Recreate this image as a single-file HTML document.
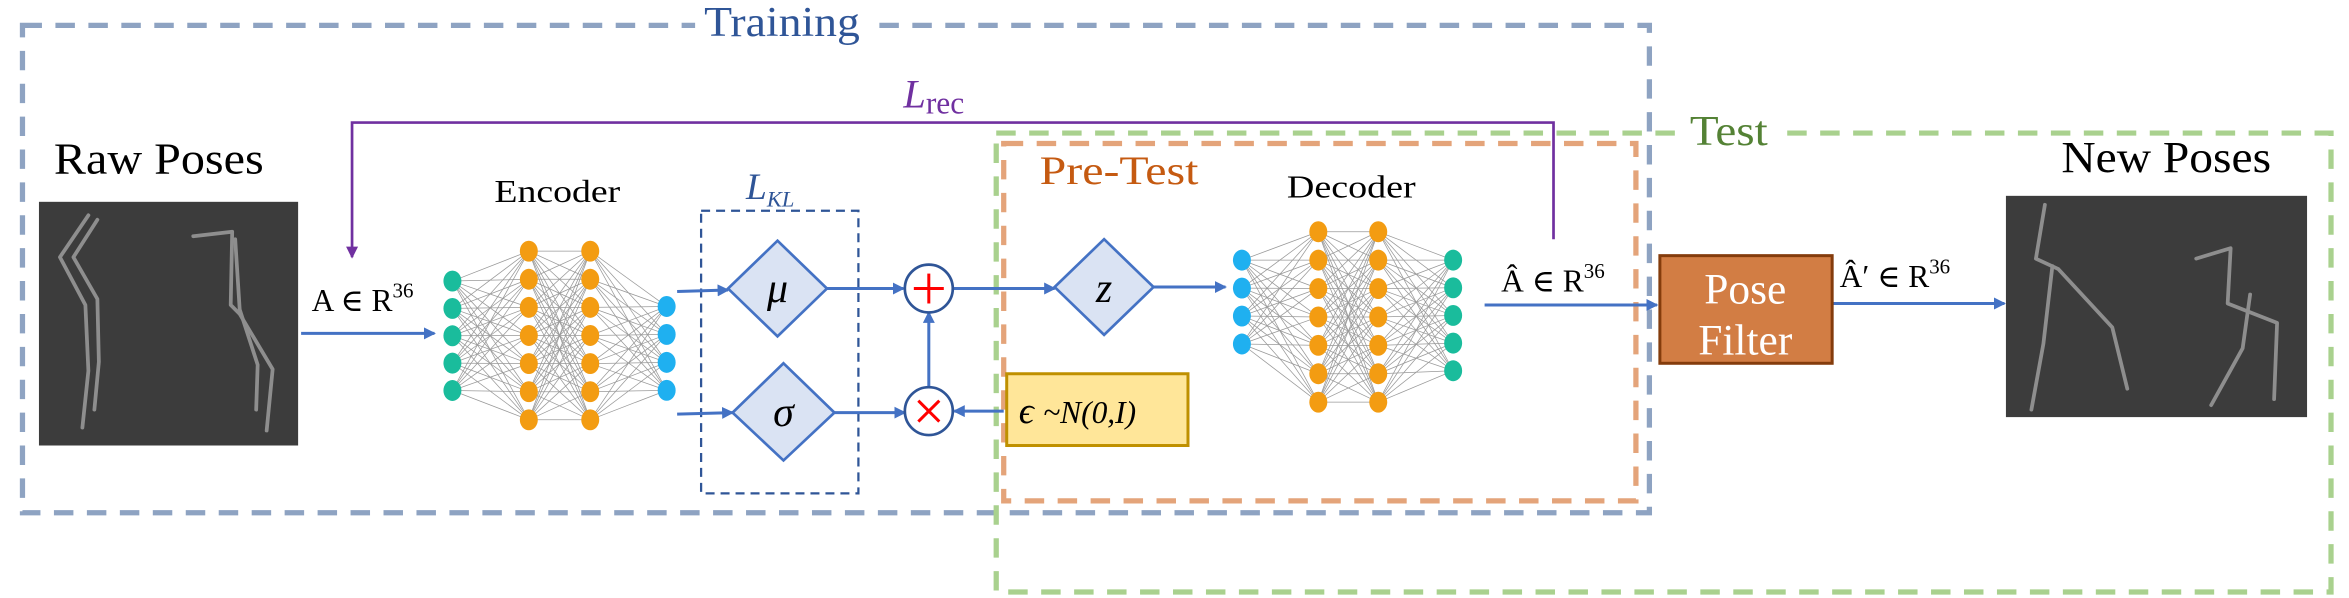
<!DOCTYPE html>
<html><head><meta charset="utf-8">
<style>html,body{margin:0;padding:0;background:#fff;}svg{display:block;}svg text{font-family:"Liberation Serif","DejaVu Serif",serif;}</style>
</head><body>
<svg id="s" xmlns="http://www.w3.org/2000/svg" width="2349" height="598" viewBox="0 0 1568 400" preserveAspectRatio="none">
<defs>
<marker id="ab" markerWidth="8" markerHeight="8" refX="7" refY="4" orient="auto" markerUnits="userSpaceOnUse"><path d="M0,0 L8,4 L0,8 z" fill="#4472c4"/></marker>
<marker id="ap" markerWidth="8" markerHeight="8" refX="7" refY="4" orient="auto" markerUnits="userSpaceOnUse"><path d="M0,0 L8,4 L0,8 z" fill="#7030a0"/></marker>
</defs>
<rect x="15" y="17" width="1086" height="326" fill="none" stroke="#8ea3c2" stroke-width="3.5" stroke-dasharray="13,9"/>
<rect x="665" y="89" width="891" height="307" fill="none" stroke="#a9d18e" stroke-width="3.5" stroke-dasharray="13,9"/>
<rect x="670" y="96" width="422" height="239" fill="none" stroke="#e4a47a" stroke-width="3.5" stroke-dasharray="13,9"/>
<rect x="468" y="141" width="105" height="189" fill="none" stroke="#2f5597" stroke-width="1.5" stroke-dasharray="6,4"/>
<rect x="464" y="0" width="116" height="30" fill="#fff"/>
<text x="470" y="24" font-size="28" fill="#2f5597" textLength="104" lengthAdjust="spacingAndGlyphs">Training</text>
<rect x="1122" y="76" width="66" height="24" fill="#fff"/>
<text x="1128" y="97" font-size="28" fill="#548235" textLength="52" lengthAdjust="spacingAndGlyphs">Test</text>
<text x="694" y="123" font-size="27" fill="#c55a11" textLength="106" lengthAdjust="spacingAndGlyphs">Pre-Test</text>
<polyline points="1037,160 1037,82 235,82 235,172" fill="none" stroke="#7030a0" stroke-width="1.8" marker-end="url(#ap)"/>
<text x="603" y="72" font-size="27" font-style="italic" fill="#7030a0">L<tspan font-style="normal" font-size="21" dy="4">rec</tspan></text>
<text x="498" y="133" font-size="25" font-style="italic" fill="#2f5597">L<tspan font-size="15" dy="5">KL</tspan></text>
<text x="36" y="116" font-size="30" fill="#000" textLength="140" lengthAdjust="spacingAndGlyphs">Raw Poses</text>
<text x="1376" y="115" font-size="30" fill="#000" textLength="140" lengthAdjust="spacingAndGlyphs">New Poses</text>
<text x="330" y="135" font-size="21" fill="#000" textLength="84" lengthAdjust="spacingAndGlyphs">Encoder</text>
<text x="859" y="132" font-size="21" fill="#000" textLength="86" lengthAdjust="spacingAndGlyphs">Decoder</text>
<text x="208" y="208" font-size="21" fill="#000">A ∈ R<tspan font-size="14" dy="-9">36</tspan></text>
<text x="1002" y="195" font-size="21" fill="#000">Â  ∈ R<tspan font-size="14" dy="-9">36</tspan></text>
<text x="1228" y="192" font-size="21" fill="#000">Â′ ∈ R<tspan font-size="14" dy="-9">36</tspan></text>
<rect x="26" y="135" width="173" height="163" fill="#3c3c3c"/>
<rect x="1339" y="131" width="201" height="148" fill="#3c3c3c"/>
<g fill="none" stroke="#8e8e8e" stroke-width="2.5" stroke-linejoin="round" stroke-linecap="round">
<polyline points="59,144 40,172 57,204 59,248 55,286"/>
<polyline points="65,147 49,172 65,200 66,242 63,274"/>
<polyline points="129,158 155,155 154,204 160,210 182,247 178,288"/>
<polyline points="157,160 160,207 172,244 171,274"/>
<polyline points="1365,137 1359,173 1374,180 1410,219 1420,260"/>
<polyline points="1370,178 1364,230 1356,274"/>
<polyline points="1466,173 1489,166 1487,203 1520,216 1518,267"/>
<polyline points="1502,197 1497,233 1476,271"/>
</g>
<g stroke="#4472c4" stroke-width="2" fill="none">
<line x1="201" y1="223" x2="290" y2="223" marker-end="url(#ab)"/>
<line x1="452" y1="195" x2="486" y2="194" marker-end="url(#ab)"/>
<line x1="452" y1="277" x2="489" y2="276" marker-end="url(#ab)"/>
<line x1="552" y1="193" x2="603" y2="193" marker-end="url(#ab)"/>
<line x1="557" y1="276" x2="604" y2="276" marker-end="url(#ab)"/>
<line x1="620" y1="259" x2="620" y2="209" marker-end="url(#ab)"/>
<line x1="635" y1="193" x2="704" y2="193" marker-end="url(#ab)"/>
<line x1="670" y1="275" x2="637" y2="275" marker-end="url(#ab)"/>
<line x1="770" y1="192" x2="818" y2="192" marker-end="url(#ab)"/>
<line x1="991" y1="204" x2="1106" y2="204" marker-end="url(#ab)"/>
<line x1="1223" y1="203" x2="1338" y2="203" marker-end="url(#ab)"/>
</g>
<g fill="#dae3f3" stroke="#4472c4" stroke-width="1.8">
<polygon points="519,161 552,193 519,225 486,193"/>
<polygon points="523,243 557,276 523,308 489,276"/>
<polygon points="737,160 770,192 737,224 704,192"/>
</g>
<text x="519" y="202" font-size="28" font-style="italic" text-anchor="middle">μ</text>
<text x="523" y="285" font-size="28" font-style="italic" text-anchor="middle">σ</text>
<text x="737" y="202" font-size="28" font-style="italic" text-anchor="middle">z</text>
<g fill="#fff" stroke="#2f5597" stroke-width="1.8">
<circle cx="620" cy="193" r="16"/><circle cx="620" cy="275" r="16"/>
</g>
<g stroke="#ff0000" stroke-width="2">
<line x1="610" y1="193" x2="630" y2="193"/><line x1="620" y1="183" x2="620" y2="203"/>
<line x1="613" y1="268" x2="627" y2="282"/><line x1="627" y1="268" x2="613" y2="282"/>
</g>
<rect x="672" y="250" width="121" height="48" fill="#ffe699" stroke="#bf9000" stroke-width="2"/>
<text x="680" y="283" font-size="25" font-style="italic">ϵ <tspan font-size="21">~N(0,I)</tspan></text>
<rect x="1108" y="171" width="115" height="72" fill="#d27d44" stroke="#843c0c" stroke-width="2"/>
<text x="1165" y="203" font-size="29" fill="#fff" text-anchor="middle">Pose</text>
<text x="1165" y="237" font-size="29" fill="#fff" text-anchor="middle">Filter</text>
<g id="nets"></g>
</svg>
<script>
var g=document.getElementById('nets'),ns='http://www.w3.org/2000/svg';
function col(x,y0,n,dy){var a=[];for(var i=0;i<n;i++)a.push([x,y0+i*dy]);return a;}
function net(layers,colors){
 for(var l=0;l<layers.length-1;l++)for(var a of layers[l])for(var b of layers[l+1]){
  var e=document.createElementNS(ns,'line');e.setAttribute('x1',a[0]);e.setAttribute('y1',a[1]);e.setAttribute('x2',b[0]);e.setAttribute('y2',b[1]);e.setAttribute('stroke','#999');e.setAttribute('stroke-width','0.5');g.appendChild(e);}
 layers.forEach(function(L,i){L.forEach(function(p){var c=document.createElementNS(ns,'ellipse');c.setAttribute('cx',p[0]);c.setAttribute('cy',p[1]);c.setAttribute('rx',6);c.setAttribute('ry',7);c.setAttribute('fill',colors[i]);g.appendChild(c);});});
}
net([col(302,188,5,18.3),col(353,168,7,18.8),col(394,168,7,18.8),col(445,205,4,18.7)],['#1abc9c','#f39c12','#f39c12','#1fb0f0']);
net([col(829,174,4,18.7),col(880,155,7,19),col(920,155,7,19),col(970,174,5,18.5)],['#1fb0f0','#f39c12','#f39c12','#1abc9c']);
</script>
</body></html>
